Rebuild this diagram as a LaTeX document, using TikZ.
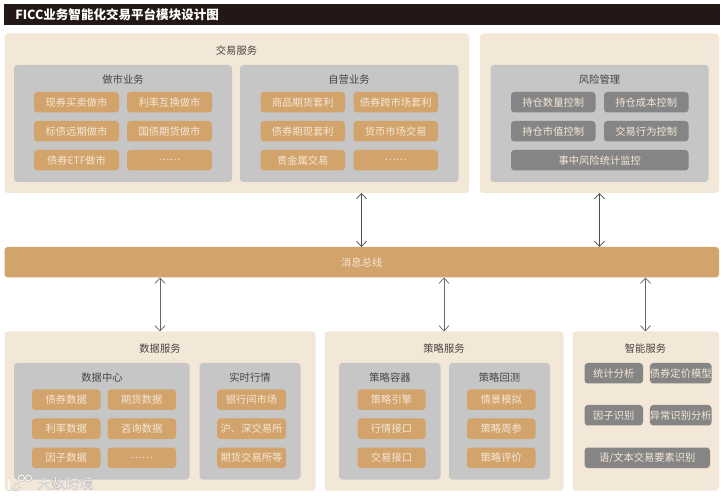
\documentclass[tikz,border=0pt]{standalone}
\usepackage{fontspec}
\setmainfont{Noto Sans CJK SC}
\usetikzlibrary{arrows.meta}
\definecolor{panelc}{HTML}{F3E7D7}
\definecolor{grayc}{HTML}{C6C6C6}
\definecolor{orangec}{HTML}{D2A36B}
\definecolor{dgrayc}{HTML}{858585}
\definecolor{titlec}{HTML}{231815}
\definecolor{textd}{HTML}{4A4440}
\definecolor{textl}{HTML}{F5E8D8}
\definecolor{wmedge}{HTML}{A8A5A0}
\definecolor{wmfill}{HTML}{F7F5F1}
\tikzset{
  bxbase/.style={inner sep=0pt,outer sep=0pt,rounded corners=2.5pt,font=\fontsize{7.7pt}{9pt}\selectfont},
  panelbx/.style={bxbase,fill=panelc,text=textd},
  graybx/.style={bxbase,fill=grayc,text=textd},
  orangebx/.style={bxbase,fill=orangec,text=textl},
  dgraybx/.style={bxbase,fill=dgrayc,text=textl},
  grouptitle/.style={inner sep=0pt,text=textd,font=\fontsize{7.7pt}{9pt}\selectfont},
  biarrow/.style={draw=#1,line width=0.55pt,{Straight Barb[length=4pt,width=7.5pt]}-{Straight Barb[length=4pt,width=7.5pt]}},
  logoedge/.style={draw=wmedge,line width=1.4pt,line cap=round},
  logofill/.style={draw=wmfill,line width=0.9pt,line cap=round},
}
% name, x1, y1, x2, y2, style, text
\newcommand{\bx}[7]{\node[#6,minimum width={(#4-#2)*0.75pt},minimum height={(#5-#3)*0.75pt}] (#1) at ({(#2+#4)/2},{(#3+#5)/2}) {#7};}
\newcommand{\ttl}[4]{\node[grouptitle] (#1) at (#2,#3) {#4};}
\newcommand{\logoshape}[1]{%
  \draw[#1] (9,479) -- (9,490);
  \draw[#1] (18,484) .. controls (14,484) and (12,487) .. (13,490) .. controls (15,491) and (18,490) .. (20,488);
  \draw[#1] (21.5,478) circle (3);
  \draw[#1] (28.5,478) circle (3);
}
\begin{document}
\begin{tikzpicture}[x=0.75pt,y=-0.75pt]
\useasboundingbox (0,0) rectangle (724,498);
\fill[white] (0,0) rectangle (724,498);
% title bar
\node[fill=titlec,inner sep=0pt,minimum width={(719.5-4)*0.75pt},minimum height={21*0.75pt}] (titlebar) at (361.75,15) {};
\node[inner sep=0pt,anchor=west,text=white,font=\fontsize{9.4pt}{11pt}\selectfont\bfseries] (titletext) at (15,15) {FICC业务智能化交易平台模块设计图};
% trading
\bx{trade}{4.5}{33.5}{469}{193}{panelbx}{}
\ttl{tradet}{236.5}{51}{交易服务}
\bx{mm}{14}{65}{232}{182}{graybx}{}
\ttl{mmt}{123}{79.5}{做市业务}
\bx{a1}{34}{92}{119}{112.5}{orangebx}{现券买卖做市}
\bx{a2}{127}{92}{212}{112.5}{orangebx}{利率互换做市}
\bx{a3}{34}{121}{119}{141.5}{orangebx}{标债远期做市}
\bx{a4}{127}{121}{212}{141.5}{orangebx}{国债期货做市}
\bx{a5}{34}{150}{119}{170.5}{orangebx}{债券ETF做市}
\bx{a6}{127}{150}{212}{170.5}{orangebx}{……}
\bx{prop}{240}{65}{458.5}{182}{graybx}{}
\ttl{propt}{349}{79.5}{自营业务}
\bx{b1}{260.5}{92}{345}{112.5}{orangebx}{商品期货套利}
\bx{b2}{353.5}{92}{438}{112.5}{orangebx}{债券跨市场套利}
\bx{b3}{260.5}{121}{345}{141.5}{orangebx}{债券期现套利}
\bx{b4}{353.5}{121}{438}{141.5}{orangebx}{货币市场交易}
\bx{b5}{260.5}{150}{345}{170.5}{orangebx}{贵金属交易}
\bx{b6}{353.5}{150}{438}{170.5}{orangebx}{……}
% risk
\bx{riskp}{480}{33.5}{719}{193}{panelbx}{}
\bx{risk}{490.5}{65}{708.5}{182}{graybx}{}
\ttl{riskt}{599.5}{79.5}{风险管理}
\bx{c1}{511}{92}{595.5}{112.5}{dgraybx}{持仓数量控制}
\bx{c2}{604}{92}{688.5}{112.5}{dgraybx}{持仓成本控制}
\bx{c3}{511}{121}{595.5}{141.5}{dgraybx}{持仓市值控制}
\bx{c4}{604}{121}{688.5}{141.5}{dgraybx}{交易行为控制}
\bx{c5}{511}{150}{688.5}{170.5}{dgraybx}{事中风险统计监控}
% bus
\bx{bus}{4.5}{247}{719}{277.5}{orangebx}{消息总线}
% data
\bx{data}{4.5}{331.5}{315.5}{490.5}{panelbx}{}
\ttl{datat}{160}{349}{数据服务}
\bx{dc}{14}{363}{189.5}{479.5}{graybx}{}
\ttl{dct}{102}{377.5}{数据中心}
\bx{d1}{32}{389.5}{100.5}{410}{orangebx}{债券数据}
\bx{d2}{107.5}{389.5}{176}{410}{orangebx}{期货数据}
\bx{d3}{32}{418.5}{100.5}{439}{orangebx}{利率数据}
\bx{d4}{107.5}{418.5}{176}{439}{orangebx}{咨询数据}
\bx{d5}{32}{447.5}{100.5}{468}{orangebx}{因子数据}
\bx{d6}{107.5}{447.5}{176}{468}{orangebx}{……}
\bx{rt}{199.5}{363}{300.5}{479.5}{graybx}{}
\ttl{rtt}{250}{377.5}{实时行情}
\bx{e1}{217}{389.5}{286}{410}{orangebx}{银行间市场}
\bx{e2}{217}{418.5}{286}{439}{orangebx}{沪、深交易所}
\bx{e3}{217}{447.5}{286}{468}{orangebx}{期货交易所等}
% strategy
\bx{strat}{324.5}{331.5}{563.5}{490.5}{panelbx}{}
\ttl{stratt}{444}{349}{策略服务}
\bx{sc}{339}{363}{440.5}{479.5}{graybx}{}
\ttl{sct}{390}{377.5}{策略容器}
\bx{f1}{357.5}{389.5}{425.5}{410}{orangebx}{策略引擎}
\bx{f2}{357.5}{418.5}{425.5}{439}{orangebx}{行情接口}
\bx{f3}{357.5}{447.5}{425.5}{468}{orangebx}{交易接口}
\bx{bt}{449}{363}{550}{479.5}{graybx}{}
\ttl{btt}{499.5}{377.5}{策略回测}
\bx{g1}{467}{389.5}{535.5}{410}{orangebx}{情景模拟}
\bx{g2}{467}{418.5}{535.5}{439}{orangebx}{策略周参}
\bx{g3}{467}{447.5}{535.5}{468}{orangebx}{策略评价}
% intelligent
\bx{ai}{572.5}{331.5}{719}{490.5}{panelbx}{}
\ttl{ait}{645.5}{349}{智能服务}
\bx{h1}{584.5}{363}{643}{383.5}{dgraybx}{统计分析}
\bx{h2}{651.5}{363}{710}{383.5}{dgraybx}{债券定价模型}
\bx{h3}{584.5}{405}{643}{425.5}{dgraybx}{因子识别}
\bx{h4}{651.5}{405}{710}{425.5}{dgraybx}{异常识别分析}
\bx{h5}{584.5}{447.5}{710}{468}{dgraybx}{语/文本交易要素识别}
% connectors
\coordinate (x1) at (361.5,0);
\coordinate (x2) at (599.5,0);
\coordinate (x3) at (160,0);
\coordinate (x4) at (444,0);
\coordinate (x5) at (645.5,0);
\draw[biarrow=black!70] (x1 |- trade.south) -- (x1 |- bus.north);
\draw[biarrow=black!70] (x2 |- riskp.south) -- (x2 |- bus.north);
\draw[biarrow=black!60] (x3 |- bus.south) -- (x3 |- data.north);
\draw[biarrow=black!60] (x4 |- bus.south) -- (x4 |- strat.north);
\draw[biarrow=black!60] (x5 |- bus.south) -- (x5 |- ai.north);
% watermark
\logoshape{logoedge}
\logoshape{logofill}
\node[inner sep=0pt,anchor=west,font=\fontsize{10.5pt}{12pt}\selectfont] (wm) at (37,483.5) {\special{pdf:code q 2 Tr 0.12 w 0.66 G 0.97 g}大数跨境\special{pdf:code Q}};
\end{tikzpicture}
\end{document}
